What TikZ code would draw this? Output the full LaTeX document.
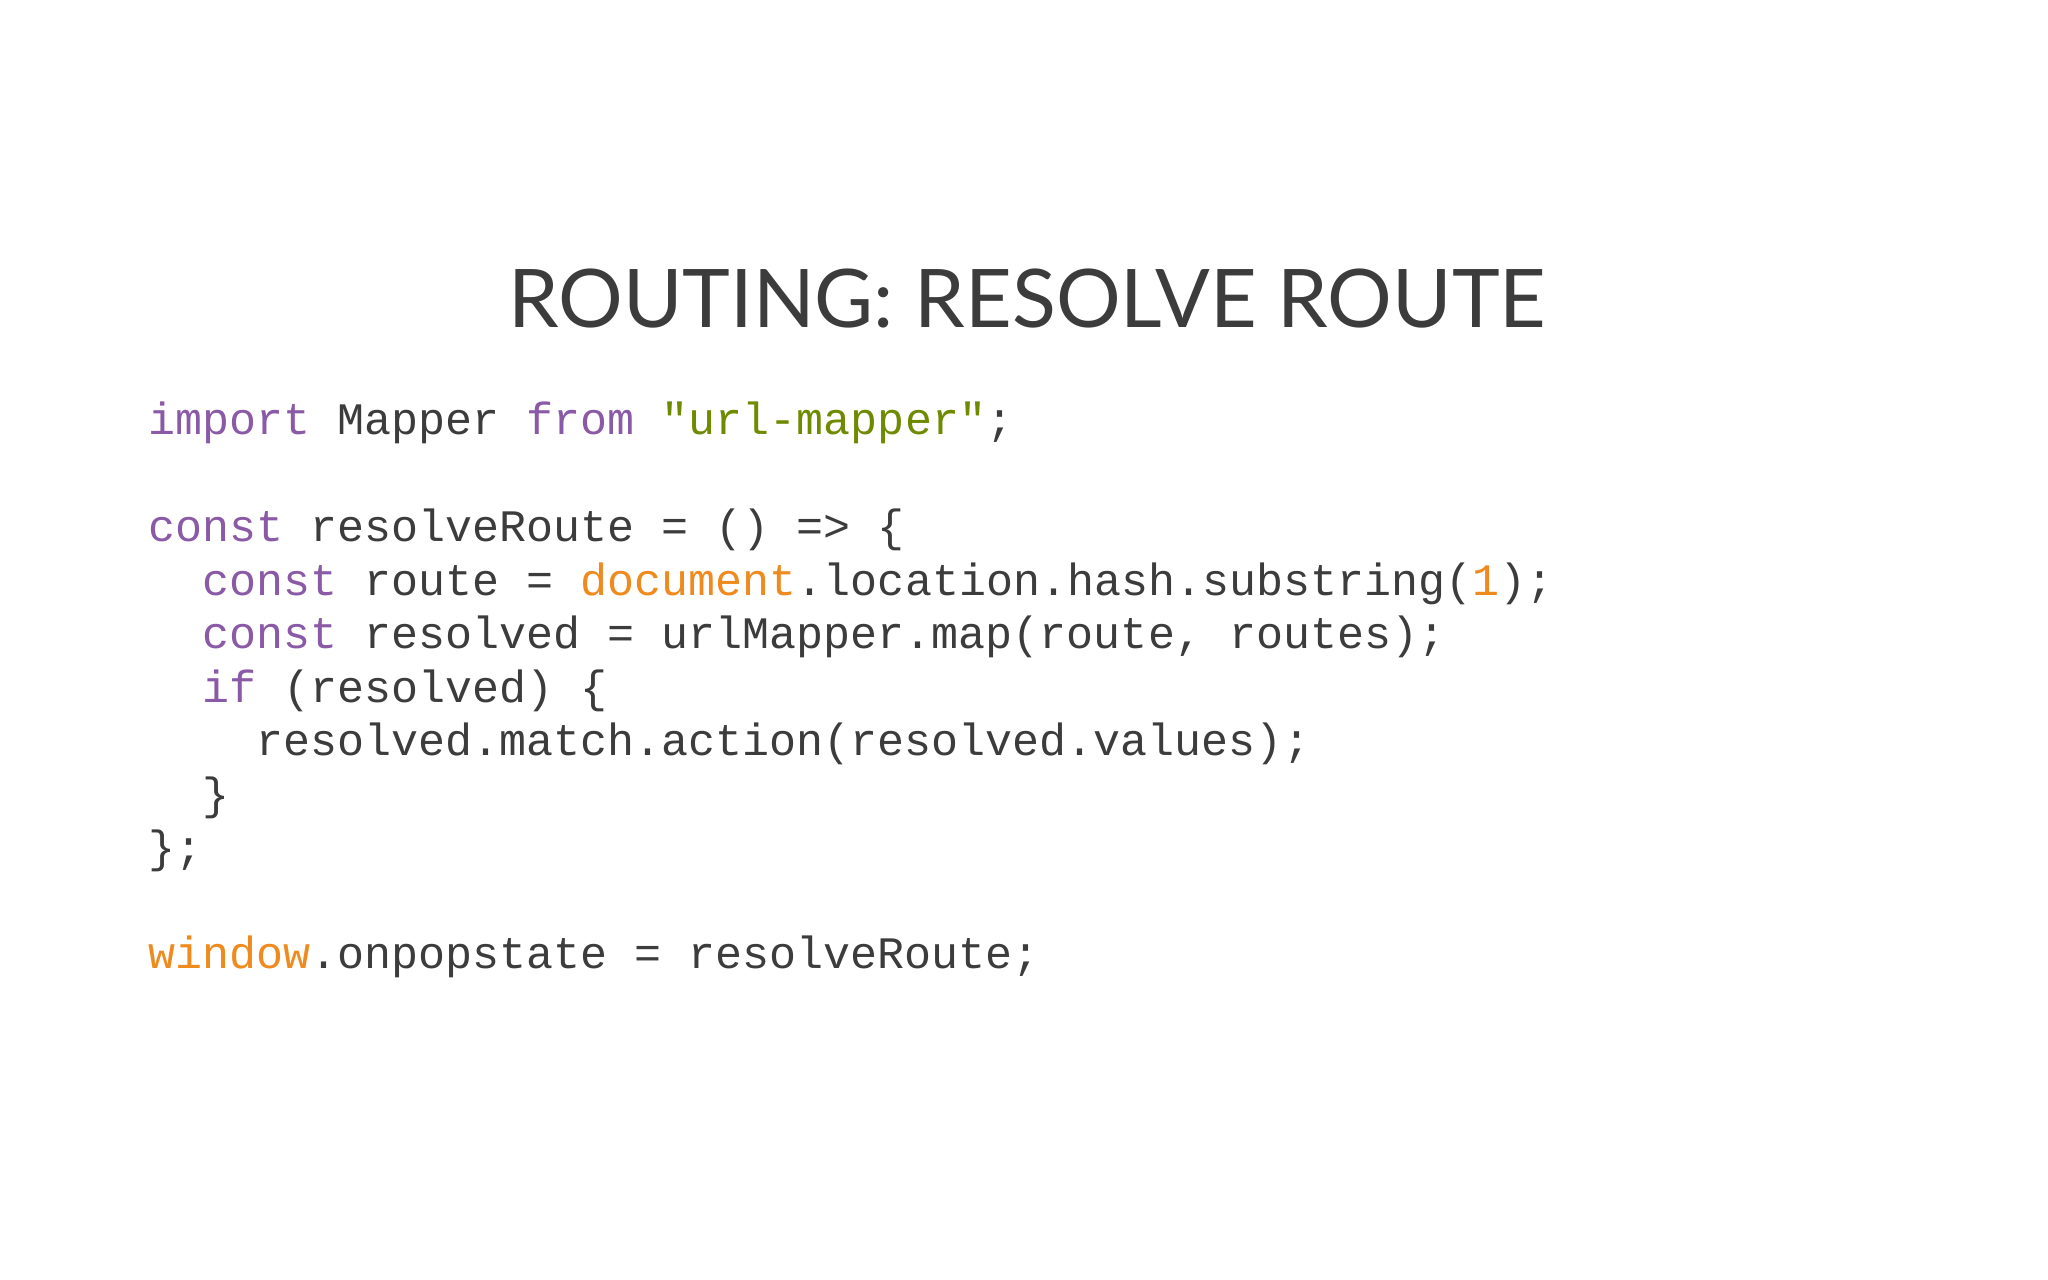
\documentclass[tikz,border=0pt]{standalone}
\usepackage{fontspec}
\setmonofont{Liberation Mono}
\newfontfamily\titlefont{Lato}
\definecolor{kw}{HTML}{8A5AA6}
\definecolor{str}{HTML}{6E8B00}
\definecolor{glb}{HTML}{EE8A1E}
\definecolor{txt}{HTML}{3C3C3C}
\begin{document}
\begin{tikzpicture}[x=0.01cm,y=-0.01cm,
  codeline/.style={anchor=base west,inner sep=0pt,text=txt,font=\ttfamily\fontsize{12.8pt}{14pt}\selectfont}]
\useasboundingbox[fill=white] (0,0) rectangle (2048,1280);
\node[anchor=base,inner sep=0pt,text=txt,font=\titlefont\fontsize{23pt}{26pt}\selectfont] (title) at (1027,328) {ROUTING: RESOLVE ROUTE};
\node[codeline] (l1) at (148,435) {\textcolor{kw}{import} Mapper \textcolor{kw}{from} \textcolor{str}{"url-mapper"};};
\node[codeline] (l2) at (148,542) {\textcolor{kw}{const} resolveRoute = () => \{};
\node[codeline] (l3) at (202,596) {\textcolor{kw}{const} route = \textcolor{glb}{document}.location.hash.substring(\textcolor{glb}{1});};
\node[codeline] (l4) at (202,649) {\textcolor{kw}{const} resolved = urlMapper.map(route, routes);};
\node[codeline] (l5) at (202,703) {\textcolor{kw}{if} (resolved) \{};
\node[codeline] (l6) at (256,756) {resolved.match.action(resolved.values);};
\node[codeline] (l7) at (202,810) {\}};
\node[codeline] (l8) at (148,863) {\};};
\node[codeline] (l9) at (148,969) {\textcolor{glb}{window}.onpopstate = resolveRoute;};
\end{tikzpicture}
\end{document}
